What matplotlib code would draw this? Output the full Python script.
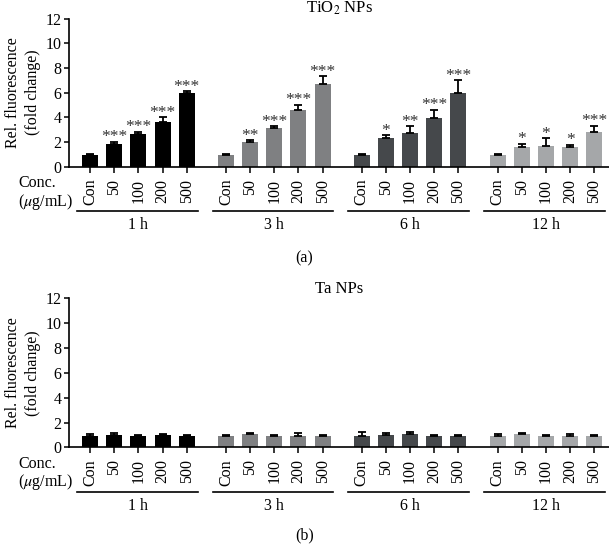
import numpy as np
import matplotlib
matplotlib.use('Agg')
import matplotlib.pyplot as plt

plt.rcParams['font.family'] = ['Liberation Serif', 'DejaVu Serif']
plt.rcParams['mathtext.fontset'] = 'stix'

conc = ['Con', '50', '100', '200', '500']
times = ['1 h', '3 h', '6 h', '12 h']
colors = ['#000000', '#7f8082', '#45484b', '#a5a7a9']

# TiO2 NPs: means and upper errors per time point
tio2_mean = [[0.94, 1.81, 2.62, 3.61, 6.01],
             [0.94, 2.02, 3.10, 4.61, 6.74],
             [0.94, 2.29, 2.74, 3.93, 6.00],
             [0.94, 1.61, 1.69, 1.61, 2.82]]
tio2_err = [[0.08, 0.21, 0.21, 0.41, 0.09],
            [0.08, 0.14, 0.19, 0.43, 0.59],
            [0.08, 0.26, 0.54, 0.70, 1.00],
            [0.06, 0.27, 0.60, 0.19, 0.48]]
tio2_sig = [['', '***', '***', '***', '***'],
            ['', '**', '***', '***', '***'],
            ['', '*', '**', '***', '***'],
            ['', '*', '*', '*', '***']]

# Ta NPs
ta_mean = [[0.91, 1.01, 0.89, 0.97, 0.89],
           [0.94, 1.05, 0.91, 0.94, 0.94],
           [0.91, 0.99, 1.05, 0.94, 0.89],
           [0.91, 1.05, 0.91, 0.94, 0.89]]
ta_err = [[0.19, 0.14, 0.12, 0.13, 0.08],
          [0.07, 0.13, 0.08, 0.19, 0.10],
          [0.35, 0.19, 0.21, 0.10, 0.12],
          [0.19, 0.13, 0.10, 0.16, 0.08]]

period = 5.62
fs = 11.5


def panel(ax, means, errs, sig, title):
    xs_all, labels = [], []
    for g in range(4):
        xs = g * period + np.arange(5)
        m = np.array(means[g])
        e = np.array(errs[g])
        ax.bar(xs, m, width=0.66, color=colors[g], zorder=2)
        ax.errorbar(xs, m, yerr=[np.zeros(5), e], fmt='none', ecolor='black',
                    elinewidth=1.3, capsize=3, capthick=1.3, zorder=3)
        if sig is not None:
            for x, v, s in zip(xs, m + e, sig[g]):
                if s:
                    ax.annotate(s, (x, v), xytext=(0, -2.5), textcoords='offset points',
                                ha='center', va='bottom', fontsize=12.5, color='#333333')
        xs_all += list(xs)
        labels += conc
        # group underline and label
        ax.plot([xs[0] - 0.55, xs[-1] + 0.45], [-3.6, -3.6], color='black',
                lw=1.2, clip_on=False)
        ax.text(xs.mean(), -4.7, times[g], ha='center', va='center', fontsize=fs)
    ax.set_xticks(xs_all)
    ax.set_xticklabels(labels, rotation=90, fontsize=fs, va='top')
    ax.set_xlim(-0.87, 21.47)
    ax.set_ylim(0, 12)
    ax.set_yticks(range(0, 13, 2))
    ax.tick_params(axis='y', labelsize=fs, length=3.5, width=1.1, pad=2)
    ax.tick_params(axis='x', length=4.5, width=1.1, pad=4)
    for s in ['top', 'right']:
        ax.spines[s].set_visible(False)
    for s in ['left', 'bottom']:
        ax.spines[s].set_linewidth(1.2)
    ax.set_ylabel('Rel. fluorescence\n(fold change)', fontsize=fs, labelpad=3,
                  linespacing=1.35)
    ax.set_title(title, fontsize=fs + 0.5, pad=4)


fig = plt.figure(figsize=(6.09, 5.45), dpi=100)
ax1 = fig.add_axes([0.1133, 0.694, 0.8867, 0.272])
ax2 = fig.add_axes([0.1133, 0.179, 0.8867, 0.274])

panel(ax1, tio2_mean, tio2_err, tio2_sig, 'TiO$_2$ NPs')
panel(ax2, ta_mean, ta_err, None, 'Ta NPs')

for ybot, letter in [(166.7, '(a)'), (447.3, '(b)')]:
    fig.text(18 / 609, 1 - (ybot + 16.6) / 545, 'Conc.', fontsize=fs, ha='left', va='center')
    fig.text(18 / 609, 1 - (ybot + 35) / 545, r'($\mu$g/mL)', fontsize=fs, ha='left', va='center')
    fig.text(0.5, 1 - min(ybot + 91.6, 535) / 545, letter, fontsize=fs, ha='center', va='center')

fig.savefig('out.png', dpi=100)
